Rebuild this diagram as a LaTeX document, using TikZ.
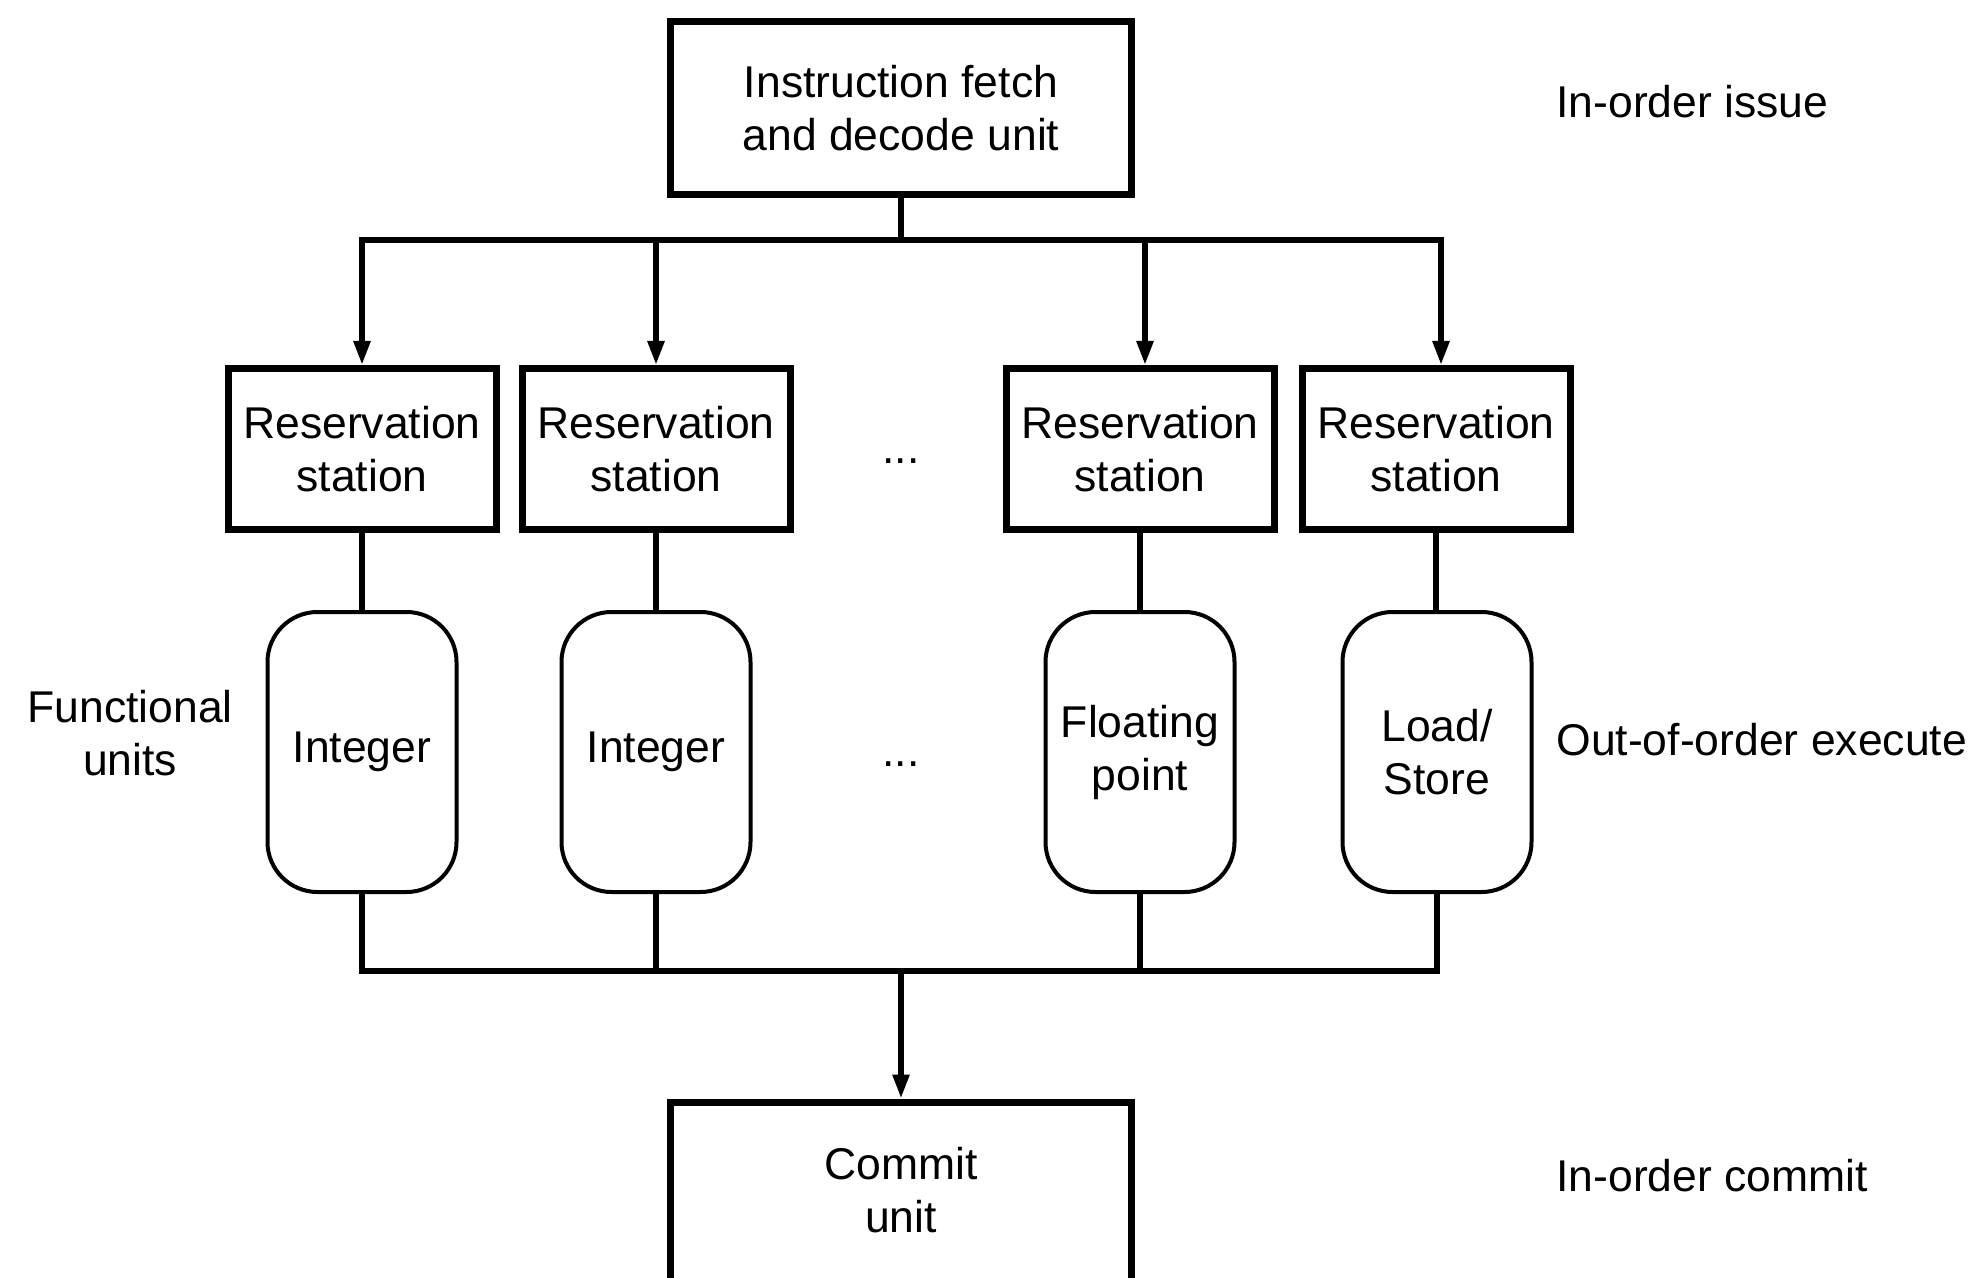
\documentclass[tikz,border=0pt]{standalone}
\usepackage{fontspec}
\setmainfont{Liberation Sans}
\usetikzlibrary{arrows.meta}
\begin{document}
\begin{tikzpicture}[x=0.5pt,y=-0.5pt,
  font=\fontsize{22.25pt}{26.5pt}\selectfont,
  unitbox/.style={draw, line width=3.5pt, inner sep=0pt, align=center, minimum width=230.5pt, minimum height=86.5pt},
  rsbox/.style={draw, line width=3.5pt, inner sep=0pt, align=center, minimum width=134pt, minimum height=80.5pt},
  fubox/.style={draw, line width=2pt, rounded corners=25pt, inner sep=0pt, align=center, minimum width=94.5pt, minimum height=140pt},
  link/.style={line width=2.75pt, line cap=rect},
  arr/.style={line width=2.75pt, -{Triangle[length=12pt,width=8pt]}},
  lbl/.style={anchor=west, inner sep=0pt, align=left}
]
\path[use as bounding box, fill=white] (0,0) rectangle (1982,1278);

% top unit
\node[unitbox] (fetch) at (901,108) {Instruction fetch\\and decode unit};

% reservation stations
\node[rsbox] (rs1) at (362,449) {Reservation\\station};
\node[rsbox] (rs2) at (656,449) {Reservation\\station};
\node[rsbox] (rs3) at (1140,449) {Reservation\\station};
\node[rsbox] (rs4) at (1436,449) {Reservation\\station};
\node[anchor=base, inner sep=0pt] (dots1) at (901,464) {...};

% functional units
\node[fubox] (fu1) at (362,752) {Integer};
\node[fubox] (fu2) at (656,752) {Integer};
\node[fubox] (fu3) at (1140,752) {Floating\\point};
\node[fubox] (fu4) at (1437,752) {Load/\\Store};
\node[anchor=base, inner sep=0pt] (dots2) at (901,766) {...};

% commit unit (bottom edge runs off the picture)
\node[unitbox, minimum height=96pt, text depth=8pt] (commit) at (901,1198) {Commit\\unit};

% labels
\node[lbl] (lissue) at (1556,102) {In-order issue};
\node[lbl] (lexec) at (1556,740) {Out-of-order execute};
\node[lbl] (lcommit) at (1556,1176) {In-order commit};
\node[align=center, inner sep=0pt] (lfu) at (130,733) {Functional\\units};

% top distribution bus
\coordinate (tb) at (901,240);
\draw[link] (fetch.south) -- (tb);
\draw[link] (rs1.north |- tb) -- ([xshift=2.5pt]rs4.north |- tb);
\draw[arr] (rs1.north |- tb) -- (rs1.north);
\draw[arr] (rs2.north |- tb) -- (rs2.north);
\draw[arr] ([xshift=2.5pt]rs3.north |- tb) -- ([xshift=2.5pt]rs3.north);
\draw[arr] ([xshift=2.5pt]rs4.north |- tb) -- ([xshift=2.5pt]rs4.north);

% station to unit
\draw[link, line cap=butt] (rs1.south) -- (fu1.north);
\draw[link, line cap=butt] (rs2.south) -- (fu2.north);
\draw[link, line cap=butt] (rs3.south) -- (fu3.north);
\draw[link, line cap=butt] (rs4.south) -- (rs4.south |- fu4.north);

% bottom bus
\coordinate (bb) at (901,971);
\draw[link, line cap=butt] (fu1.south) -- (fu1.south |- bb) -- (fu4.south |- bb) -- (fu4.south);
\draw[link, line cap=butt] (fu2.south) -- (fu2.south |- bb);
\draw[link, line cap=butt] (fu3.south) -- (fu3.south |- bb);
\draw[arr] (bb) -- (commit.north);
\end{tikzpicture}
\end{document}
